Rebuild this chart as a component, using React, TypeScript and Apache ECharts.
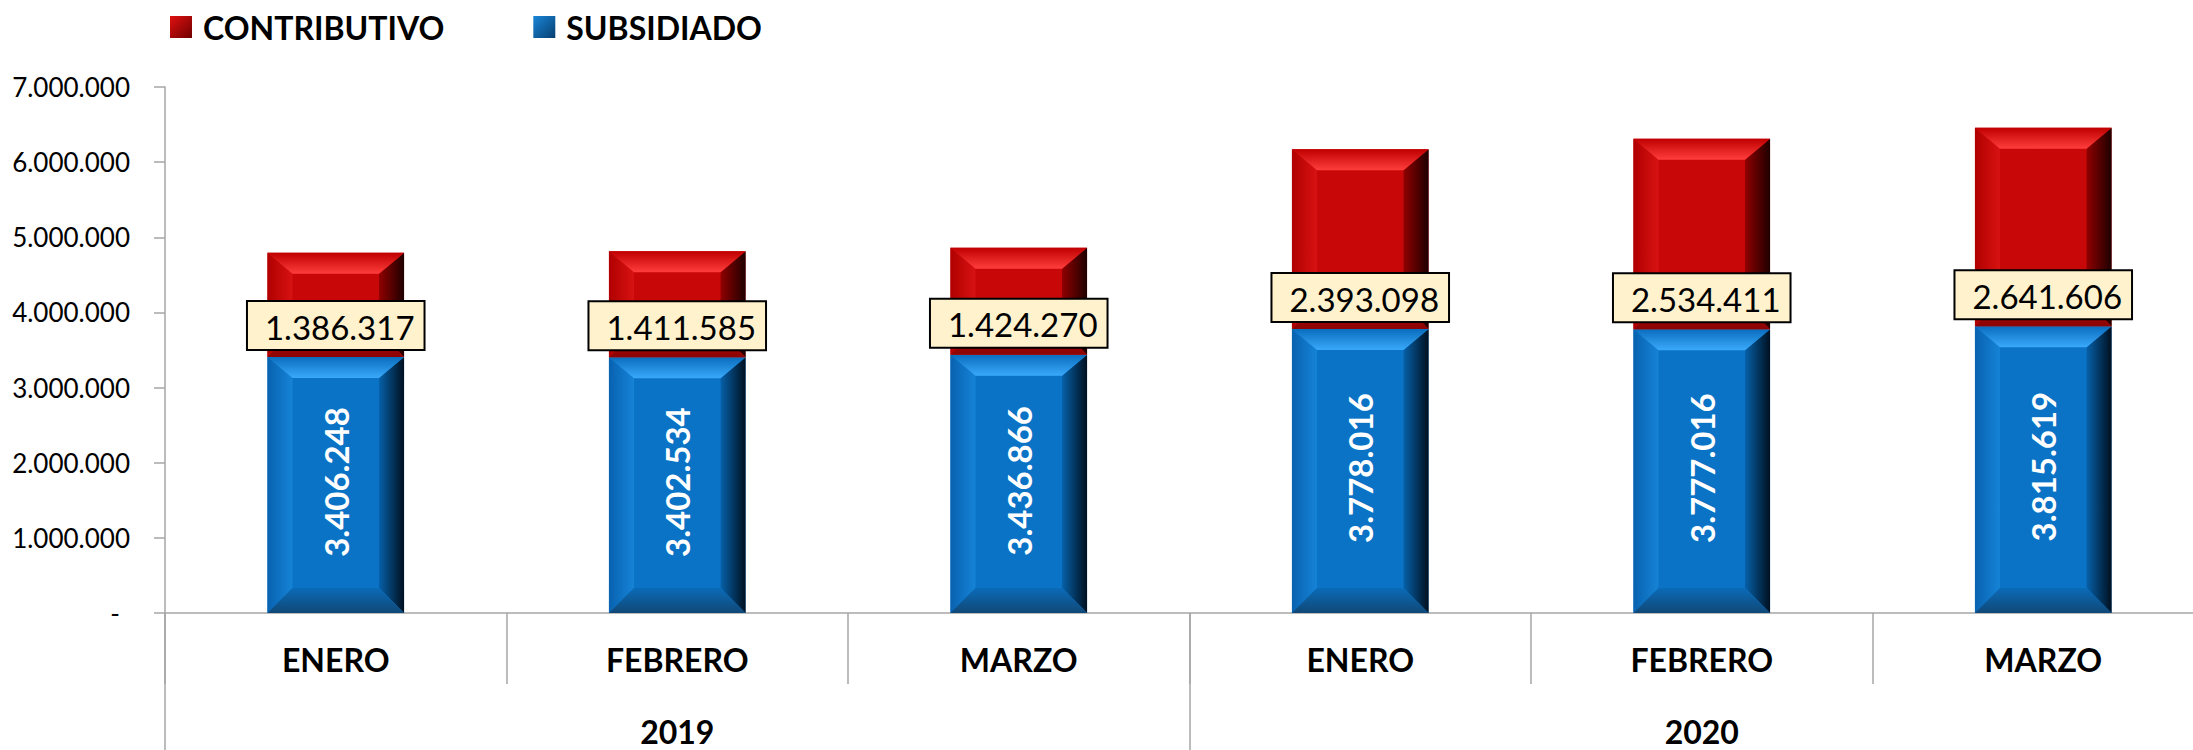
import React, { useEffect, useRef } from "react";
import * as echarts from "echarts";

const months = ["ENERO", "FEBRERO", "MARZO", "ENERO", "FEBRERO", "MARZO"];
const years = ["2019", "2020"];
const subsidiado = [3406248, 3402534, 3436866, 3778016, 3777016, 3815619];
const contributivo = [1386317, 1411585, 1424270, 2393098, 2534411, 2641606];
const yMin = 0;
const yMax = 7000000;
const yStep = 1000000;

const fmt = (v: number) =>
  v === 0 ? "-" : String(Math.round(v)).replace(/\B(?=(\d{3})+(?!\d))/g, ".");

const FONT = 'Lato, "Liberation Sans", Arial, sans-serif';

type Palette = {
  base: string;
  topA: string;
  topB: string;
  leftA: string;
  leftB: string;
  rightA: string;
  rightB: string;
  bottomA: string;
  bottomB: string;
};

const bluePal: Palette = {
  base: "#0A73C6",
  topA: "#0A6DBE",
  topB: "#3AA9FA",
  leftA: "#0862B0",
  leftB: "#1683D6",
  rightA: "#0660A8",
  rightB: "#00101F",
  bottomA: "#0B6BB8",
  bottomB: "#104877",
};
const redPal: Palette = {
  base: "#C80708",
  topA: "#C00000",
  topB: "#FF3D3D",
  leftA: "#B00000",
  leftB: "#D81212",
  rightA: "#900000",
  rightB: "#1E0000",
  bottomA: "#C00606",
  bottomB: "#8A0404",
};

const lg = (x2: number, y2: number, a: string, b: string) =>
  new echarts.graphic.LinearGradient(0, 0, x2, y2, [
    { offset: 0, color: a },
    { offset: 1, color: b },
  ]);

function makeRender(pal: Palette, kind: "blue" | "red") {
  return (params: any, api: any) => {
    const xi = api.value(0);
    const y0 = api.value(1);
    const y1 = api.value(2);
    const raw = api.value(3);
    const pb = api.coord([xi, y0]);
    const pt = api.coord([xi, y1]);
    const bw = api.size([1, 0])[0] * 0.4;
    const cx = pb[0];
    const left = cx - bw / 2;
    const right = cx + bw / 2;
    const yt = pt[1];
    const yb = pb[1];
    const h = yb - yt;
    const bx = Math.min(25, bw / 2);
    const byT = Math.min(21, h / 2);
    const byB = Math.min(25, h / 2);
    const children: any[] = [
      { type: "rect", shape: { x: left, y: yt, width: bw, height: h }, style: { fill: pal.base } },
      {
        type: "polygon",
        shape: { points: [[left, yt], [left + bx, yt + byT], [left + bx, yb - byB], [left, yb]] },
        style: { fill: lg(1, 0, pal.leftA, pal.leftB) },
      },
      {
        type: "polygon",
        shape: { points: [[right, yt], [right - bx, yt + byT], [right - bx, yb - byB], [right, yb]] },
        style: { fill: lg(1, 0, pal.rightA, pal.rightB) },
      },
      {
        type: "polygon",
        shape: { points: [[left, yt], [right, yt], [right - bx, yt + byT], [left + bx, yt + byT]] },
        style: { fill: lg(0, 1, pal.topA, pal.topB) },
      },
      {
        type: "polygon",
        shape: { points: [[left, yb], [right, yb], [right - bx, yb - byB], [left + bx, yb - byB]] },
        style: { fill: lg(0, 1, pal.bottomA, pal.bottomB) },
      },
    ];
    if (kind === "blue") {
      children.push({
        type: "text",
        x: cx,
        y: (yt + yb) / 2 - 3,
        rotation: Math.PI / 2,
        style: {
          text: fmt(raw),
          fill: "#FFFFFF",
          fontSize: 33,
          fontWeight: "bold",
          fontFamily: FONT,
          align: "center",
          verticalAlign: "middle",
        },
      });
    } else {
      children.push({
        type: "text",
        x: cx,
        y: yb - 8,
        style: {
          text: fmt(raw),
          fill: "#000000",
          fontSize: 33,
          fontFamily: FONT,
          align: "center",
          verticalAlign: "bottom",
          backgroundColor: "#FFF2CC",
          borderColor: "#000000",
          borderWidth: 2,
          padding: [8, 9, 6, 17],
        },
      });
    }
    return { type: "group", children };
  };
}

export default function App() {
  const ref = useRef<HTMLDivElement>(null);
  useEffect(() => {
    if (!ref.current) return;
    const chart = echarts.init(ref.current, undefined, { renderer: "svg" });
    const blueData = subsidiado.map((v, i) => [i, 0, v, v]);
    const redData = contributivo.map((v, i) => [i, subsidiado[i], subsidiado[i] + v, v]);
    const axisColor = "#A6A6A6";
    chart.setOption({
      animation: false,
      backgroundColor: "#FFFFFF",
      legend: {
        left: 170,
        top: 11,
        padding: 0,
        icon: "rect",
        itemWidth: 22,
        itemHeight: 22,
        itemGap: 89,
        textStyle: {
          fontSize: 32,
          fontWeight: "bold",
          fontFamily: FONT,
          color: "#000",
          padding: [0, 0, 0, 6],
        },
        data: [
          { name: "CONTRIBUTIVO", itemStyle: { color: lg(1, 1, "#E01010", "#700000") } },
          { name: "SUBSIDIADO", itemStyle: { color: lg(1, 1, "#1A86D8", "#063F70") } },
        ],
      },
      grid: {
        left: 165,
        width: 2049,
        top: 87,
        bottom: 137,
        containLabel: false,
        outerBoundsMode: "none",
      },
      xAxis: [
        {
          type: "category",
          data: months,
          position: "bottom",
          boundaryGap: true,
          axisLine: { show: true, lineStyle: { color: axisColor, width: 1.5 } },
          axisTick: { show: true, interval: 0, length: 71, lineStyle: { color: axisColor, width: 1.5 } },
          axisLabel: {
            interval: 0,
            margin: 30,
            fontSize: 32,
            fontWeight: "bold",
            fontFamily: FONT,
            color: "#000",
          },
          splitLine: { show: false },
        },
        {
          type: "category",
          data: years,
          position: "bottom",
          offset: 0,
          boundaryGap: true,
          axisLine: { show: false },
          axisTick: { show: true, interval: 0, length: 140, lineStyle: { color: axisColor, width: 1.5 } },
          axisLabel: {
            interval: 0,
            margin: 102,
            fontSize: 32,
            fontWeight: "bold",
            fontFamily: FONT,
            color: "#000",
          },
          splitLine: { show: false },
        },
      ],
      yAxis: {
        type: "value",
        min: yMin,
        max: yMax,
        interval: yStep,
        axisLine: { show: true, lineStyle: { color: axisColor, width: 1.5 } },
        axisTick: { show: true, length: 11, lineStyle: { color: axisColor, width: 1.5 } },
        axisLabel: {
          margin: 35,
          fontSize: 26,
          fontFamily: FONT,
          color: "#000",
          formatter: (v: number) => (v === 0 ? "{d|" + fmt(v) + "}" : fmt(v)),
          rich: { d: { fontSize: 26, fontFamily: FONT, color: "#000", padding: [0, 10, 0, 0] } },
        },
        splitLine: { show: false },
      },
      series: [
        {
          name: "SUBSIDIADO",
          type: "custom",
          xAxisIndex: 0,
          itemStyle: { color: "#0070C0" },
          encode: { x: 0, y: [1, 2] },
          data: blueData,
          renderItem: makeRender(bluePal, "blue"),
        },
        {
          name: "CONTRIBUTIVO",
          type: "custom",
          xAxisIndex: 0,
          itemStyle: { color: "#C00000" },
          encode: { x: 0, y: [1, 2] },
          data: redData,
          renderItem: makeRender(redPal, "red"),
        },
      ],
    });
    return () => chart.dispose();
  }, []);
  return (
    <div
      ref={ref}
      style={{ position: "fixed", left: 0, top: 0, width: 2193, height: 750, background: "#fff" }}
    />
  );
}
